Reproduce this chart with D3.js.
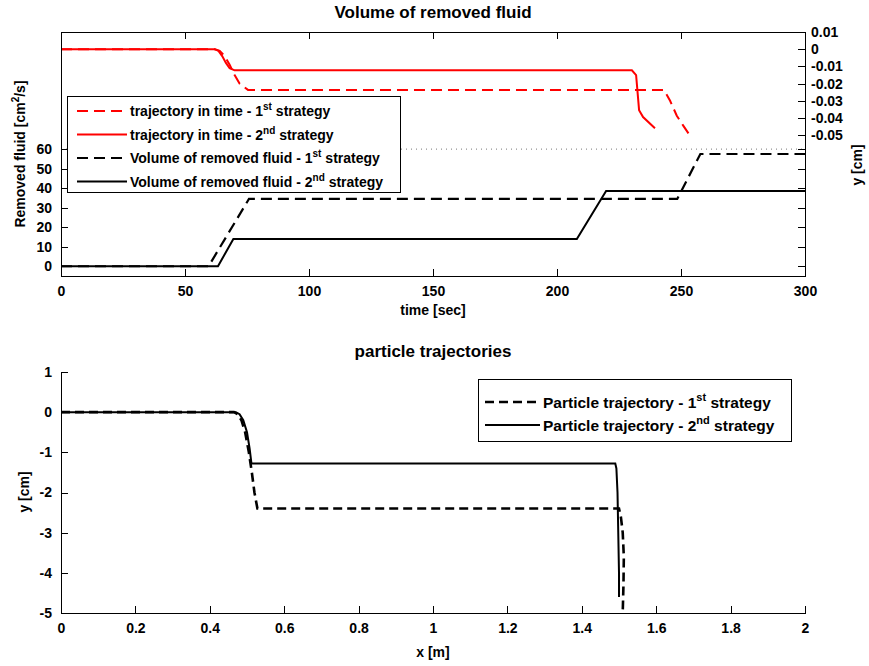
<!DOCTYPE html>
<html>
<head>
<meta charset="utf-8">
<script src="https://cdn.jsdelivr.net/npm/d3@7"></script>
<style>
  body { margin: 0; background: #fff; }
  svg { display: block; font-family: "Liberation Sans", Arial, sans-serif; }
  .tk text { font-size: 14px; font-weight: bold; fill: #000; }
  .tk line, .tk path { stroke: #000; stroke-width: 1; shape-rendering: crispEdges; }
  .tt { font-size: 17px; font-weight: bold; }
  .lab { font-size: 14px; font-weight: bold; }
</style>
</head>
<body>
<svg id="chart" width="869" height="666"></svg>
<script>
// top chart: volume of removed fluid (left axis)
var volTime1 = [0, 59.5, 75.8, 248.5, 257.8, 300];
var volVal1 = [0, 0, 34.5, 34.5, 57.5, 57.5];
var volTime2 = [0, 63.3, 69.5, 208, 219.8, 300];
var volVal2 = [0, 0, 14, 14, 38.5, 38.5];

// top chart: trajectory in time (right axis, cm)
var trajTime1 = [0, 62, 64, 66, 68, 70, 72, 75.4, 243.1, 245.6, 248.3, 250.9, 253.6];
var trajVal1 = [0, 0, -0.001, -0.004, -0.009, -0.015, -0.02, -0.0237, -0.0237, -0.03, -0.0387, -0.0445, -0.0503];
var trajTime2 = [0, 62, 63.5, 65, 66.5, 68, 70, 230.2, 231.9, 233.1, 234.7, 239.5];
var trajVal2 = [0, 0, -0.001, -0.004, -0.008, -0.011, -0.0123, -0.0123, -0.0151, -0.0355, -0.0395, -0.046];

var timeTicks = [0, 50, 100, 150, 200, 250, 300];
var volTicks = [0, 10, 20, 30, 40, 50, 60];
var cmTicks = [0.01, 0, -0.01, -0.02, -0.03, -0.04, -0.05];

// bottom chart: particle trajectories (x in m, y in cm)
var partX1 = [0, 0.465, 0.475, 0.485, 0.495, 0.505, 0.513, 0.52, 0.528, 1.5, 1.505, 1.51, 1.513, 1.512, 1.51];
var partY1 = [0, 0, -0.05, -0.2, -0.5, -1.0, -1.5, -2.0, -2.4, -2.4, -2.6, -3.0, -3.6, -4.3, -5.0];
var partX2 = [0, 0.47, 0.48, 0.49, 0.5, 0.507, 0.512, 1.49, 1.493, 1.496, 1.498, 1.5, 1.5];
var partY2 = [0, 0, -0.05, -0.2, -0.5, -0.9, -1.28, -1.28, -1.4, -2.0, -3.0, -4.0, -4.6];

var xTicks = [0, 0.2, 0.4, 0.6, 0.8, 1, 1.2, 1.4, 1.6, 1.8, 2];
var yTicks = [1, 0, -1, -2, -3, -4, -5];

var svg = d3.select('#chart');

function zip(a, b) {
  return a.map(function(v, i) { return [v, b[i]]; });
}

// matlab style labels use a plain hyphen for minus
function fmt(spec) {
  var f = d3.format(spec);
  return function(d) { return d === 0 ? '0' : f(d).replace('\u2212', '-'); };
}

// ---------- top chart ----------
var topBox = { left: 61, right: 805, top: 32, bottom: 276 };

var xT = d3.scaleLinear().domain([0, 300]).range([topBox.left, topBox.right]);
var yL = d3.scaleLinear().domain([-5, 120]).range([topBox.bottom, topBox.top]);
var yR = d3.scaleLinear().domain([-0.132, 0.01]).range([topBox.bottom, topBox.top]);

svg.append('text').attr('class', 'tt')
  .attr('x', (topBox.left + topBox.right) / 2).attr('y', 18)
  .attr('text-anchor', 'middle').text('Volume of removed fluid');

// dotted line at the top of the volume range
svg.append('line')
  .attr('x1', topBox.left).attr('x2', topBox.right)
  .attr('y1', yL(60)).attr('y2', yL(60))
  .attr('stroke', '#777').attr('stroke-dasharray', '1,4');

var lineL = d3.line().x(function(d) { return xT(d[0]); }).y(function(d) { return yL(d[1]); });
var lineR = d3.line().x(function(d) { return xT(d[0]); }).y(function(d) { return yR(d[1]); });

svg.append('path').datum(zip(trajTime1, trajVal1)).attr('d', lineR)
  .attr('fill', 'none').attr('stroke', '#ff0000').attr('stroke-width', 2).attr('stroke-dasharray', '11,6');
svg.append('path').datum(zip(trajTime2, trajVal2)).attr('d', lineR)
  .attr('fill', 'none').attr('stroke', '#ff0000').attr('stroke-width', 2);
svg.append('path').datum(zip(volTime1, volVal1)).attr('d', lineL)
  .attr('fill', 'none').attr('stroke', '#000').attr('stroke-width', 2.2).attr('stroke-dasharray', '11,6');
svg.append('path').datum(zip(volTime2, volVal2)).attr('d', lineL)
  .attr('fill', 'none').attr('stroke', '#000').attr('stroke-width', 2);

// axes, ticks drawn inward like matlab
svg.append('g').attr('class', 'tk')
  .attr('transform', 'translate(0,' + topBox.bottom + ')')
  .call(d3.axisBottom(xT).tickValues(timeTicks).tickSize(-7).tickPadding(10).tickFormat(d3.format('d')));
svg.append('g').attr('class', 'tk')
  .attr('transform', 'translate(0,' + topBox.top + ')')
  .call(d3.axisTop(xT).tickValues(timeTicks).tickSize(-7).tickFormat(''));
svg.append('g').attr('class', 'tk')
  .attr('transform', 'translate(' + topBox.left + ',0)')
  .call(d3.axisLeft(yL).tickValues(volTicks).tickSize(-7).tickPadding(9).tickFormat(d3.format('d')));
svg.append('g').attr('class', 'tk')
  .attr('transform', 'translate(' + topBox.right + ',0)')
  .call(d3.axisRight(yL).tickValues(volTicks).tickSize(-7).tickFormat(''));
svg.append('g').attr('class', 'tk')
  .attr('transform', 'translate(' + topBox.right + ',0)')
  .call(d3.axisRight(yR).tickValues(cmTicks).tickSize(-7).tickPadding(6).tickFormat(fmt('.2f')));

svg.append('text').attr('class', 'lab')
  .attr('x', (topBox.left + topBox.right) / 2).attr('y', 315)
  .attr('text-anchor', 'middle').text('time [sec]');

var ylab = svg.append('text').attr('class', 'lab')
  .attr('transform', 'translate(25,154) rotate(-90)')
  .attr('text-anchor', 'middle');
ylab.append('tspan').text('Removed fluid [cm');
ylab.append('tspan').attr('dy', -6).attr('font-size', 10).text('2');
ylab.append('tspan').attr('dy', 6).text('/s]');

svg.append('text').attr('class', 'lab')
  .attr('transform', 'translate(862,165) rotate(-90)')
  .attr('text-anchor', 'middle').text('y [cm]');

// top legend
var legTop = [
  { pre: 'trajectory in time - 1', sup: 'st', color: '#ff0000', dash: '11,6' },
  { pre: 'trajectory in time - 2', sup: 'nd', color: '#ff0000', dash: null },
  { pre: 'Volume of removed fluid - 1', sup: 'st', color: '#000', dash: '11,6' },
  { pre: 'Volume of removed fluid - 2', sup: 'nd', color: '#000', dash: null }
];
svg.append('rect').attr('x', 67.5).attr('y', 96.5).attr('width', 333).attr('height', 96)
  .attr('fill', '#fff').attr('stroke', '#000');
legTop.forEach(function(d, i) {
  var y = 111 + i * 23.5;
  svg.append('line').attr('x1', 77).attr('x2', 127).attr('y1', y).attr('y2', y)
    .attr('stroke', d.color).attr('stroke-width', 2).attr('stroke-dasharray', d.dash);
  var t = svg.append('text').attr('x', 130).attr('y', y + 5).attr('font-size', 14).attr('font-weight', 'bold');
  t.append('tspan').text(d.pre);
  t.append('tspan').attr('dy', -6).attr('font-size', 10).text(d.sup);
  t.append('tspan').attr('dy', 6).text(' strategy');
});

// ---------- bottom chart ----------
var bot = { left: 61, right: 805, top: 372, bottom: 613 };
var xB = d3.scaleLinear().domain([0, 2]).range([bot.left, bot.right]);
var yB = d3.scaleLinear().domain([-5, 1]).range([bot.bottom, bot.top]);

svg.append('text').attr('class', 'tt')
  .attr('x', (bot.left + bot.right) / 2).attr('y', 357)
  .attr('text-anchor', 'middle').attr('font-size', 15).text('particle trajectories');

var lineB = d3.line().x(function(d) { return xB(d[0]); }).y(function(d) { return yB(d[1]); });
svg.append('path').datum(zip(partX1, partY1)).attr('d', lineB)
  .attr('fill', 'none').attr('stroke', '#000').attr('stroke-width', 2.6).attr('stroke-dasharray', '9,5');
svg.append('path').datum(zip(partX2, partY2)).attr('d', lineB)
  .attr('fill', 'none').attr('stroke', '#000').attr('stroke-width', 2);

svg.append('g').attr('class', 'tk')
  .attr('transform', 'translate(0,' + bot.bottom + ')')
  .call(d3.axisBottom(xB).tickValues(xTicks).tickSize(-7).tickPadding(10).tickSizeOuter(0).tickFormat(fmt('~g')));
svg.append('g').attr('class', 'tk')
  .attr('transform', 'translate(' + bot.left + ',0)')
  .call(d3.axisLeft(yB).tickValues(yTicks).tickSize(-7).tickPadding(9).tickSizeOuter(0).tickFormat(fmt('d')));

svg.append('text').attr('class', 'lab')
  .attr('x', (bot.left + bot.right) / 2).attr('y', 657)
  .attr('text-anchor', 'middle').text('x [m]');
svg.append('text').attr('class', 'lab')
  .attr('transform', 'translate(29,492) rotate(-90)')
  .attr('text-anchor', 'middle').text('y [cm]');

// bottom legend
var legBot = [
  { pre: 'Particle trajectory - 1', sup: 'st', dash: '9,5', w: 2.6 },
  { pre: 'Particle trajectory - 2', sup: 'nd', dash: null, w: 2 }
];
svg.append('rect').attr('x', 478.5).attr('y', 379.5).attr('width', 313).attr('height', 62)
  .attr('fill', '#fff').attr('stroke', '#000');
legBot.forEach(function(d, i) {
  var y = 402 + i * 23;
  svg.append('line').attr('x1', 485).attr('x2', 540).attr('y1', y).attr('y2', y)
    .attr('stroke', '#000').attr('stroke-width', d.w).attr('stroke-dasharray', d.dash);
  var t = svg.append('text').attr('x', 543).attr('y', y + 6).attr('font-size', 15.5).attr('font-weight', 'bold');
  t.append('tspan').text(d.pre);
  t.append('tspan').attr('dy', -7).attr('font-size', 11).text(d.sup);
  t.append('tspan').attr('dy', 7).text(' strategy');
});
</script>
</body>
</html>
